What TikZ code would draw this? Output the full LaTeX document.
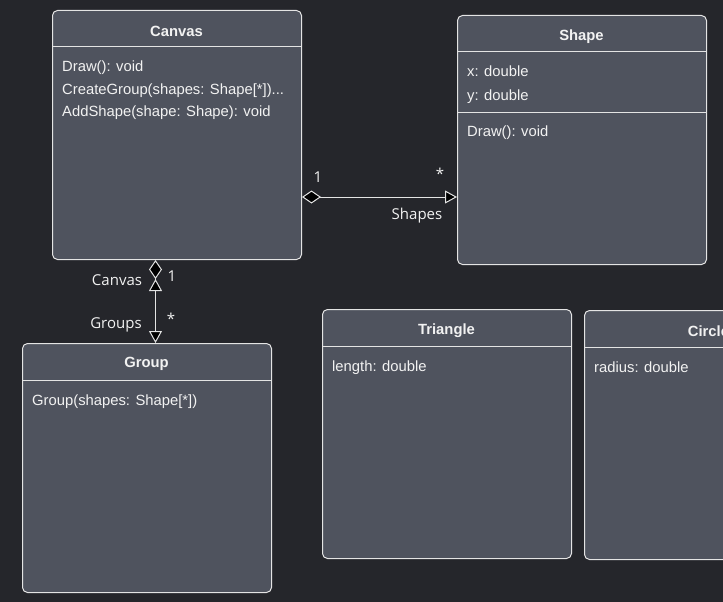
\documentclass[tikz,border=0pt]{standalone}
\usepackage{fontspec}
\setmainfont{Liberation Sans}
\newfontfamily\lblfont{Open Sans}
\usetikzlibrary{arrows.meta}
\definecolor{bg}{HTML}{25262B}
\definecolor{boxfill}{HTML}{4F535E}
\definecolor{edgecol}{HTML}{E4E4E4}
\definecolor{txt}{HTML}{F2F2F2}
\begin{document}
\begin{tikzpicture}[x=1pt,y=-1pt,
  classbox/.style={draw=edgecol, fill=boxfill, rounded corners=5pt, line width=1pt,
    minimum width=249pt, minimum height=249pt, inner sep=0pt, anchor=north west},
  title/.style={font=\bfseries\fontsize{14.8}{17}\selectfont, text=txt, inner sep=0pt, yshift=-1.5pt},
  member/.style={font=\fontsize{14.8}{17}\selectfont, text=txt, anchor=base west, inner sep=0pt},
  divider/.style={draw=edgecol, line width=1pt},
  lbl/.style={font=\lblfont\fontsize{15}{17}\selectfont, text=txt, inner sep=0pt},
  conn/.style={draw=edgecol, line width=1pt},
  diam/.tip={Diamond[fill=black, length=19pt, width=13pt, line width=1pt]},
  opentip/.tip={Triangle[fill=black, length=12pt, width=13pt, line width=1pt]}
]
\fill[bg] (0,0) rectangle (723,602);
\useasboundingbox (0,0) rectangle (723,602);
\begin{scope}
\clip (0,0) rectangle (723,602);

% Canvas
\node[classbox] (canvas) at (52,10) {};
\node[title] (canvasT) at (176.5,30) {Canvas};
\draw[divider] (canvas.west |- 0,47) -- (canvas.east |- 0,47);
\node[member] (cm1) at (62,72) {Draw(): void};
\node[member] (cm2) at (62,94) {CreateGroup(shapes: Shape[*])...};
\node[member] (cm3) at (62,116) {AddShape(shape: Shape): void};

% Shape
\node[classbox] (shape) at (457,15) {};
\node[title] (shapeT) at (581.5,35) {Shape};
\draw[divider] (shape.west |- 0,52) -- (shape.east |- 0,52);
\node[member] (sm1) at (467,77) {x: double};
\node[member] (sm2) at (467,100) {y: double};
\draw[divider] (shape.west |- 0,112) -- (shape.east |- 0,112);
\node[member] (sm3) at (467,136) {Draw(): void};

% Triangle
\node[classbox] (triangle) at (322,309) {};
\node[title] (triT) at (446.5,329) {Triangle};
\draw[divider] (triangle.west |- 0,346) -- (triangle.east |- 0,346);
\node[member] (tm1) at (332,371) {length: double};

% Circle
\node[classbox] (circle) at (584,310) {};
\node[title] (cirT) at (708.5,330) {Circle};
\draw[divider] (circle.west |- 0,347) -- (circle.east |- 0,347);
\node[member] (cim1) at (594,372) {radius: double};

% Group
\node[classbox] (group) at (22,343) {};
\node[title] (groupT) at (146.5,362) {Group};
\draw[divider] (group.west |- 0,380) -- (group.east |- 0,380);
\node[member] (gm1) at (32,405) {Group(shapes: Shape[*])};

% Canvas -- Shape
\draw[conn, {diam}-{opentip}] (canvas.east |- 0,197) -- (shape.west |- 0,197);
\node[lbl] (l1) at (318,177) {1};
\node[lbl] (l2) at (440,174) {*};
\node[lbl] (l3) at (417,216) {Shapes};

% Canvas -- Group
\draw[conn, {diam[] opentip[]}-{opentip}] ([xshift=-21.5pt]canvas.south) -- ([xshift=8.5pt]group.north);
\node[lbl] (l4) at (117,280) {Canvas};
\node[lbl] (l5) at (172,276) {1};
\node[lbl] (l6) at (116,325) {Groups};
\node[lbl] (l7) at (171,319) {*};
\end{scope}
\end{tikzpicture}
\end{document}
